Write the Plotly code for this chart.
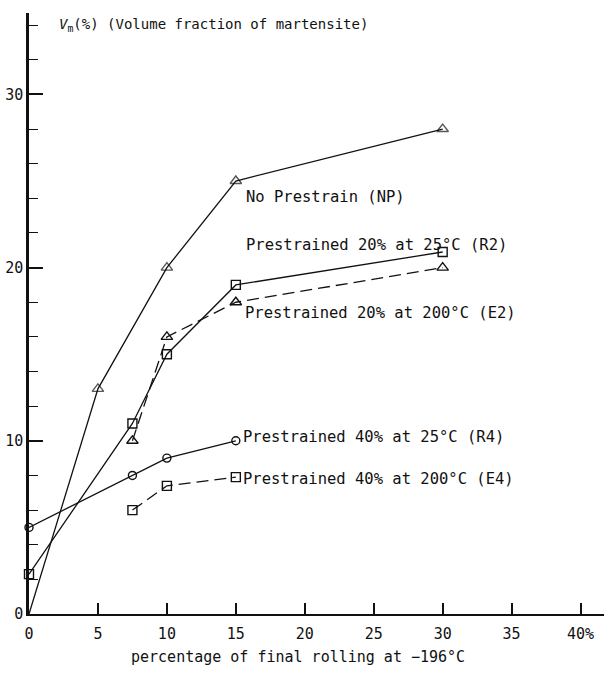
import plotly.graph_objects as go

# ---- data ----
np_x = [0, 5, 10, 15, 30]
np_y = [0, 13, 20, 25, 28]

r2_x = [0, 7.5, 10, 15, 30]
r2_y = [2.3, 11, 15, 19, 20.9]

e2_x = [7.5, 10, 15, 30]
e2_y = [10, 16, 18, 20]

r4_x = [0, 7.5, 10, 15]
r4_y = [5, 8, 9, 10]

e4_x = [7.5, 10, 15]
e4_y = [6, 7.4, 7.9]

x_tickvals = [0, 5, 10, 15, 20, 25, 30, 35, 40]
x_ticktext = ["0", "5", "10", "15", "20", "25", "30", "35", "40%"]
y_tickvals = [0, 10, 20, 30]
y_ticktext = ["0", "10", "20", "30"]

labels = [
    "No Prestrain (NP)",
    "Prestrained 20% at 25°C (R2)",
    "Prestrained 20% at 200°C (E2)",
    "Prestrained 40% at 25°C (R4)",
    "Prestrained 40% at 200°C (E4)",
]
x_title = "percentage of final rolling at \u2212196°C"
y_title = "<i>V</i><sub>m</sub>(%) (Volume fraction of martensite)"

FONT = "DejaVu Sans Mono"
BLACK = "#111111"

fig = go.Figure()

def add(x, y, symbol, dash, sizes=None, size=9):
    fig.add_trace(go.Scatter(
        x=x, y=y, mode="lines+markers",
        line=dict(color=BLACK, width=1.3, dash=dash),
        marker=dict(symbol=symbol, size=sizes if sizes else size,
                    color=BLACK, line=dict(color=BLACK, width=1.4)),
        showlegend=False, cliponaxis=False,
    ))

add(np_x, np_y, "triangle-up-open", "solid", sizes=[0, 10, 10, 10, 10])
add(r2_x, r2_y, "square-open", "solid", size=9)
add(e2_x, e2_y, "triangle-up-open", "12px,6px", size=10)
add(r4_x, r4_y, "circle-open", "solid", size=8)
add(e4_x, e4_y, "square-open", "12px,6px", size=9)

# label positions (data coords)
label_pos = [(15.6, 24.1), (15.6, 21.3), (15.5, 17.4), (15.4, 10.2), (15.4, 7.8)]
for txt, (lx, ly) in zip(labels, label_pos):
    fig.add_annotation(x=lx, y=ly, text=txt, showarrow=False,
                       xanchor="left", yanchor="middle",
                       font=dict(family=FONT, size=15.5, color=BLACK))

fig.add_annotation(xref="x", yref="y", x=(57 - 29) / 13.8, y=(614 - 26) / 17.3,
                   text=y_title, showarrow=False, xanchor="left", yanchor="middle",
                   font=dict(family=FONT, size=14, color=BLACK))
fig.add_annotation(xref="paper", yref="paper", x=(298 - 29) / 575, y=-(657 - 614) / 601,
                   text=x_title, showarrow=False, xanchor="center", yanchor="middle",
                   font=dict(family=FONT, size=15, color=BLACK))

fig.update_layout(
    width=606, height=677,
    margin=dict(l=29, r=2, t=13, b=63),
    paper_bgcolor="white", plot_bgcolor="white",
    font=dict(family=FONT, size=15, color=BLACK),
    xaxis=dict(range=[0, 41.7], tickvals=x_tickvals, ticktext=x_ticktext,
               ticks="inside", ticklen=11, tickwidth=1.5, tickcolor=BLACK,
               showline=True, linewidth=2.2, linecolor=BLACK, automargin=False,
               showgrid=False, zeroline=False, ticklabelstandoff=5),
    yaxis=dict(range=[0, 34.7], tickvals=y_tickvals, ticktext=y_ticktext,
               ticks="inside", ticklen=14, tickwidth=1.5, tickcolor=BLACK,
               minor=dict(dtick=2, tick0=0, ticks="inside", ticklen=9,
                          tickwidth=1.3, tickcolor=BLACK),
               showline=True, linewidth=2.5, linecolor=BLACK, automargin=False,
               showgrid=False, zeroline=False, ticklabelstandoff=0),
)

fig.write_html("out.html", config={"displayModeBar": False},
               post_script="document.body.style.margin='0';document.body.style.overflow='hidden';")
